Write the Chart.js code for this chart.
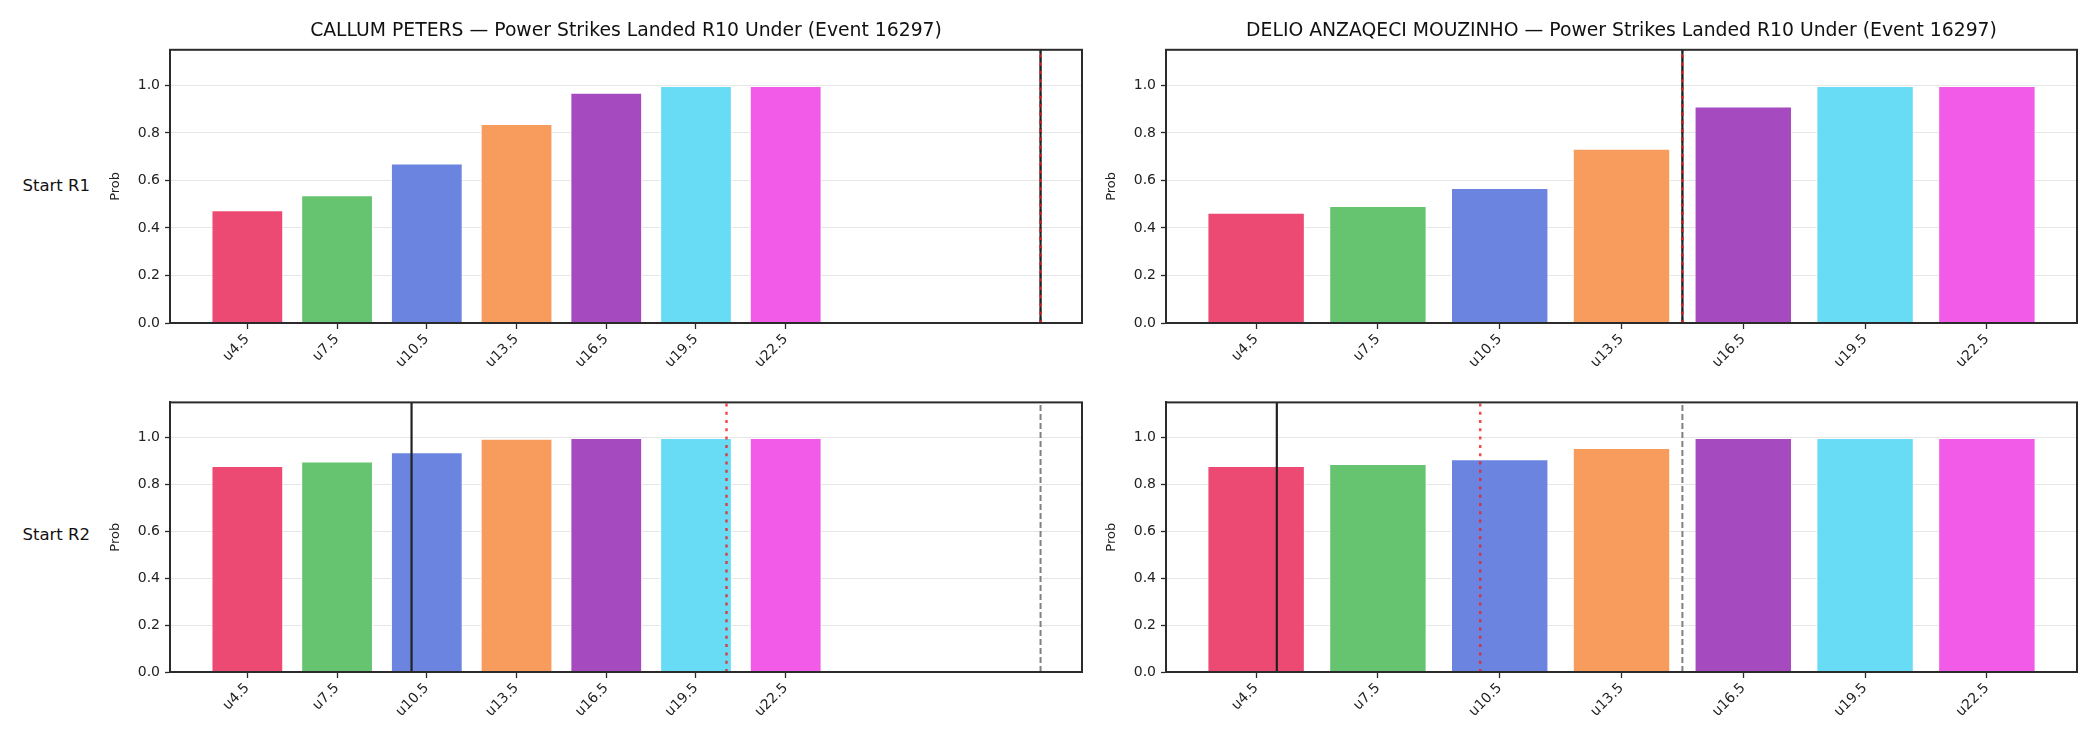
<!DOCTYPE html>
<html>
<head>
<meta charset="utf-8">
<script src="https://cdn.jsdelivr.net/npm/chart.js@4.4.1/dist/chart.umd.min.js"></script>
<style>
	body { margin: 0; background: #fff; width: 2100px; height: 750px; position: relative; overflow: hidden; font-family: "DejaVu Sans", sans-serif; }
	.panel { position: absolute; }
	.rowLbl { position: absolute; font-size: 16.5px; color: #111; text-align: right; width: 120px; line-height: 20px; }
</style>
</head>
<body>

<div class="rowLbl" style="left: -30px; top: 176px;">Start R1</div>
<div class="rowLbl" style="left: -30px; top: 525px;">Start R2</div>

<div class="panel" style="left: 70px; top: 0px;"><canvas id="chartTL" width="1024" height="375"></canvas></div>
<div class="panel" style="left: 1066px; top: 0px;"><canvas id="chartTR" width="1023" height="375"></canvas></div>
<div class="panel" style="left: 70px; top: 389px;"><canvas id="chartBL" width="1024" height="335"></canvas></div>
<div class="panel" style="left: 1066px; top: 389px;"><canvas id="chartBR" width="1023" height="335"></canvas></div>

<script>
// 카테고리 / 눈금
var categories = ['u4.5', 'u7.5', 'u10.5', 'u13.5', 'u16.5', 'u19.5', 'u22.5'];
var yTicks = [0.0, 0.2, 0.4, 0.6, 0.8, 1.0];
var barColors = ['#ec4a72', '#66c470', '#6b84df', '#f79c5c', '#a64bbf', '#69dcf5', '#f25be8'];

// 확률 값
var petersR1 = [0.475, 0.538, 0.671, 0.838, 0.969, 0.998, 0.998];
var petersR2 = [0.879, 0.898, 0.937, 0.995, 0.998, 0.998, 0.998];
var mouzinhoR1 = [0.464, 0.492, 0.568, 0.733, 0.911, 0.998, 0.998];
var mouzinhoR2 = [0.879, 0.887, 0.908, 0.955, 0.998, 0.998, 0.998];

// 세로선 위치 (실선, 점선, 파선)
var petersR1Lines = [8.84, 8.84, 8.84];
var petersR2Lines = [1.83, 5.34, 8.84];
var mouzinhoR1Lines = [3.5, 3.5, 3.5];
var mouzinhoR2Lines = [0.17, 1.84, 3.5];

var titlePeters = 'CALLUM PETERS \u2014 Power Strikes Landed R10 Under (Event 16297)';
var titleMouzinho = 'DELIO ANZAQECI MOUZINHO \u2014 Power Strikes Landed R10 Under (Event 16297)';

var Y_MAX = 1.15;
var AXIS_COLOR = '#2b2b2b';

//축 테두리 (위, 오른쪽)
var framePlugin = {
	id: 'frame',
	afterDraw: function(chart){
		var a = chart.chartArea;
		var ctx = chart.ctx;
		ctx.save();
		ctx.strokeStyle = AXIS_COLOR;
		ctx.lineWidth = 2;
		ctx.strokeRect(a.left, a.top, a.right - a.left, a.bottom - a.top);
		ctx.restore();
	}
};

function vline(x, color, width, dash){
	return {
		type: 'line',
		data: [{x: x, y: 0}, {x: x, y: Y_MAX}],
		borderColor: color,
		borderWidth: width,
		borderDash: dash,
		pointRadius: 0,
		fill: false
	};
}

function $each(arr, fn){
	for(var i = 0; i < arr.length; i++){ fn(i, arr[i]); }
}

function drawPanel(canvasId, values, lines, title){
	var barData = [];
	$each(values, function(i, v){ barData.push({x: i, y: v}); });

	// matplotlib 식 자동 여백 5%
	var lo = Math.min(-0.4, Math.min.apply(null, lines));
	var hi = Math.max(values.length - 1 + 0.4, Math.max.apply(null, lines));
	var margin = (hi - lo) * 0.05;

	var datasets = [
		vline(lines[1], 'rgba(240,30,30,0.8)', 2.5, [3, 5.3]),
		vline(lines[0], '#222222', 2.2, []),
		vline(lines[2], '#808080', 2, [6, 3]),
		{
			type: 'bar',
			data: barData,
			backgroundColor: barColors,
			borderColor: '#ffffff',
			borderWidth: 1,
			borderSkipped: 'start',
			barPercentage: 0.8,
			categoryPercentage: 1.0
		}
	];

	new Chart(document.getElementById(canvasId), {
		type: 'bar',
		data: { datasets: datasets },
		plugins: [framePlugin],
		options: {
			responsive: false,
			animation: false,
			layout: { padding: { top: title ? 0 : 10, right: 12, left: 0, bottom: 0 } },
			plugins: {
				legend: { display: false },
				tooltip: { enabled: false },
				title: {
					display: !!title,
					text: title,
					fullSize: false,
					color: '#111',
					font: { family: 'DejaVu Sans', size: 18.8, weight: 'normal', lineHeight: 1 },
					padding: { top: 22, bottom: 9 }
				}
			},
			scales: {
				x: {
					type: 'linear',
					offset: false,
					min: lo - margin,
					max: hi + margin,
					afterBuildTicks: function(scale){
						scale.ticks = categories.map(function(c, i){ return {value: i}; });
					},
					afterFit: function(scale){ scale.height = 52; },
					ticks: {
						autoSkip: false,
						minRotation: 45,
						maxRotation: 45,
						padding: 2,
						color: '#222',
						font: { family: 'DejaVu Sans', size: 14 },
						callback: function(v){ return categories[v]; }
					},
					grid: { offset: false, drawOnChartArea: false, drawTicks: true, tickLength: 6, tickColor: AXIS_COLOR, tickWidth: 1.3 },
					border: { display: true, color: AXIS_COLOR, width: 2 }
				},
				y: {
					min: 0,
					max: Y_MAX,
					afterBuildTicks: function(scale){
						scale.ticks = yTicks.map(function(v){ return {value: v}; });
					},
					afterFit: function(scale){ scale.width = 100; },
					ticks: {
						padding: 5,
						color: '#222',
						font: { family: 'DejaVu Sans', size: 14 },
						callback: function(v){ return Number(v).toFixed(1); }
					},
					grid: { color: '#e6e6e6', lineWidth: 1, tickLength: 5, tickColor: AXIS_COLOR, tickWidth: 1.3 },
					border: { display: true, color: AXIS_COLOR, width: 2 },
					title: {
						display: true,
						text: 'Prob',
						color: '#222',
						font: { family: 'DejaVu Sans', size: 13 },
						padding: { top: 38, bottom: 0 }
					}
				}
			}
		}
	});
}

drawPanel('chartTL', petersR1, petersR1Lines, titlePeters);
drawPanel('chartTR', mouzinhoR1, mouzinhoR1Lines, titleMouzinho);
drawPanel('chartBL', petersR2, petersR2Lines, null);
drawPanel('chartBR', mouzinhoR2, mouzinhoR2Lines, null);
</script>
</body>
</html>
